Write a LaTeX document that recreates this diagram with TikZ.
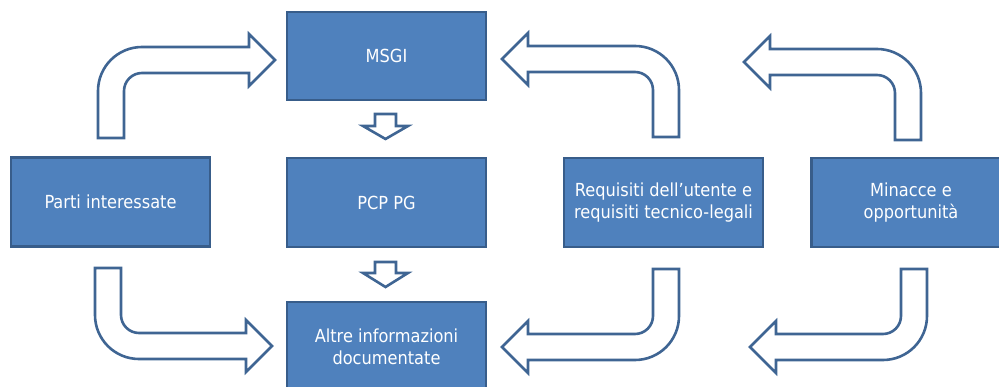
\documentclass[tikz,border=0pt]{standalone}
\usepackage{fontspec}
\setmainfont{DejaVu Sans Condensed}
\definecolor{boxfill}{HTML}{4F81BD}
\definecolor{boxline}{HTML}{385D8A}
\definecolor{arrline}{HTML}{3F6593}
\newcommand{\bentarr}[1]{\begin{scope}[#1]\draw[barrow] (0,0) -- (0,-47) .. controls (0,-71.3) and (19.7,-91) .. (44,-91) -- (151,-91) -- (151,-104) -- (177,-78) -- (151,-52) -- (151,-65) -- (44,-65) .. controls (34.1,-65) and (26,-56.9) .. (26,-47) -- (26,0) -- cycle;\end{scope}}
\begin{document}
\begin{tikzpicture}[x=1pt,y=-1pt,
  blk/.style={draw=boxline, line width=2.4pt, fill=boxfill, text=white,
    minimum width=199pt, minimum height=89pt, inner sep=0pt, align=center,
    font=\fontsize{18}{22}\selectfont},
  barrow/.style={draw=arrline, line width=2.6pt, fill=white, line join=miter}]
\useasboundingbox (0,0) rectangle (999,387);
\clip (0,0) rectangle (999,387);
% boxes
\node[blk, minimum height=88pt] (msgi) at (386.5,56) {MSGI};
\node[blk] (pcp) at (386.5,202.5) {PCP PG};
\node[blk] (altre) at (386.5,346.5) {Altre informazioni\\documentate};
\node[blk] (parti) at (110.5,202) {Parti interessate};
\node[blk] (req) at (663.5,202.5) {Requisiti dell’utente e\\requisiti tecnico-legali};
\node[blk] (min) at (911,202.5) {Minacce e\\opportunità};
% small down arrows
\draw[barrow] (375,114) -- (396,114) -- (396,126) -- (408,126) -- (385.5,139) -- (363,126) -- (375,126) -- cycle;
\draw[barrow] (375,262) -- (396,262) -- (396,273) -- (408,273) -- (385.5,287) -- (363,273) -- (375,273) -- cycle;
% bent block arrows
\bentarr{shift={(98,138)}}
\bentarr{shift={(679,137)}, xscale=-1}
\bentarr{shift={(921,140)}, xscale=-1}
\bentarr{shift={(95,268)}, yscale=-1}
\bentarr{shift={(679,269)}, xscale=-1, yscale=-1}
\bentarr{shift={(927,269)}, xscale=-1, yscale=-1}
\end{tikzpicture}
\end{document}
